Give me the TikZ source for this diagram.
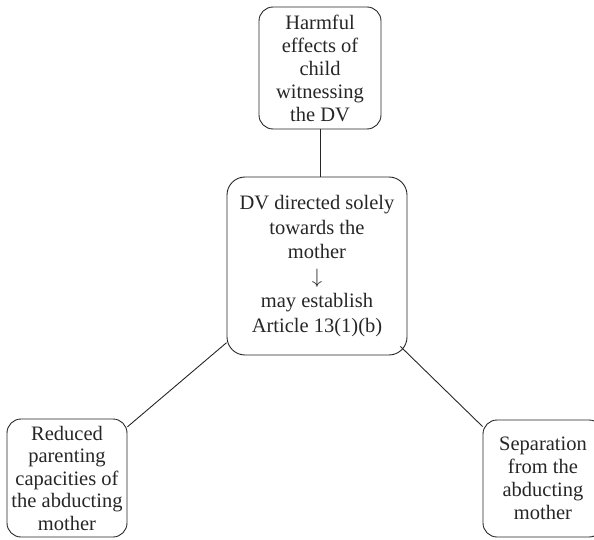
\documentclass[tikz,border=0pt]{standalone}
\usepackage{fontspec}
\setmainfont{Liberation Serif}
\usetikzlibrary{calc}
\begin{document}
\begin{tikzpicture}[x=1pt,y=-1pt,
  box/.style={draw=black!85, line width=0.9pt, rounded corners=14pt, align=center, inner sep=0pt, text=black!85},
  link/.style={draw=black!85, line width=0.9pt}]
\useasboundingbox (0,0) rectangle (594,540);
\node[box, minimum width=122pt, minimum height=122pt, font=\fontsize{20.5}{23}\selectfont] (top) at (320,68)
  {Harmful\\effects of\\child\\witnessing\\the DV};
\node[box, rounded corners=18pt, minimum width=180pt, minimum height=178pt, font=\fontsize{20.5}{24.5}\selectfont] (mid) at (317,266)
  {DV directed solely\\towards the\\mother\\$\downarrow$\\may establish\\Article 13(1)(b)};
\node[box, minimum width=120pt, minimum height=118pt, font=\fontsize{20.5}{22.5}\selectfont] (left) at (67,478)
  {Reduced\\parenting\\capacities of\\the abducting\\mother};
\node[box, minimum width=120pt, minimum height=117pt, font=\fontsize{20.5}{23}\selectfont] (right) at (543,478.5)
  {Separation\\from the\\abducting\\mother};
\draw[link] (top.south) -- (top.south |- mid.north);
\draw[link] (left) -- (mid);
\draw[link] ($(mid.south east)+(-7,-9)$) -- ($(right.north west)+(0,7)$);
\end{tikzpicture}
\end{document}
